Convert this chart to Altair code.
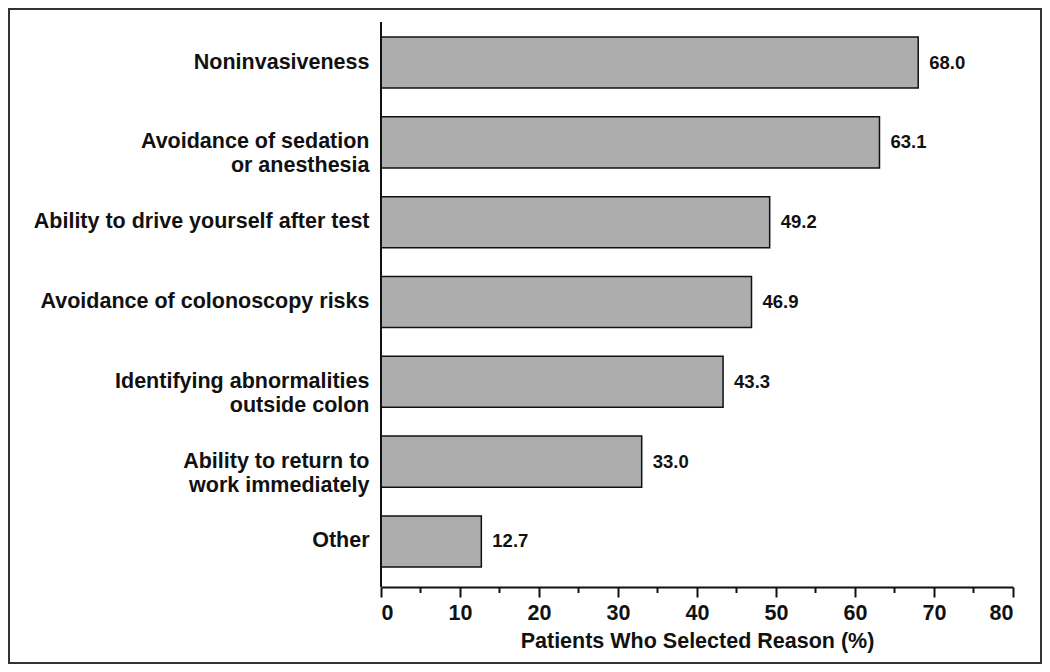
import altair as alt
import pandas as pd

reasons = [
    "Noninvasiveness",
    "Avoidance of sedation|or anesthesia",
    "Ability to drive yourself after test",
    "Avoidance of colonoscopy risks",
    "Identifying abnormalities|outside colon",
    "Ability to return to|work immediately",
    "Other",
]
percents = [68.0, 63.1, 49.2, 46.9, 43.3, 33.0, 12.7]
major_ticks = [0, 10, 20, 30, 40, 50, 60, 70, 80]
minor_ticks = [5, 15, 25, 35, 45, 55, 65, 75]

df = pd.DataFrame({"reason": reasons, "pct": percents})
minor_df = pd.DataFrame({"t": minor_ticks})

FONT = "Liberation Sans"
W, H = 632, 560

x_scale = alt.Scale(domain=[0, 80], nice=False, zero=True)
y_enc = alt.Y(
    "reason:N",
    sort=None,
    scale=alt.Scale(paddingInner=0.36, paddingOuter=0.188),
    axis=alt.Axis(
        title=None,
        domain=False,
        ticks=False,
        labelPadding=12,
        labelLimit=0,
        labelFont=FONT,
        labelFontSize=21.5,
        labelFontWeight="bold",
        labelColor="#111111",
        labelAlign="right",
        labelBaseline="middle",
        labelLineHeight=24,
        labelExpr="split(datum.label, '|')",
    ),
)

base = alt.Chart(df)

bars = base.mark_bar(fill="#adadad", stroke="#111111", strokeWidth=1.5).encode(
    x=alt.X(
        "pct:Q",
        scale=x_scale,
        axis=alt.Axis(
            values=major_ticks,
            title="Patients Who Selected Reason (%)",
            titleFont=FONT,
            titleFontSize=21.5,
            titleFontWeight="bold",
            titleColor="#111111",
            titlePadding=7,
            labelFont=FONT,
            labelFontSize=21.5,
            labelFontWeight="bold",
            labelColor="#111111",
            labelPadding=5,
            domainColor="#111111",
            domainWidth=2,
            tickColor="#111111",
            tickWidth=2,
            tickSize=10,
            grid=False,
            offset=5,
            format="d",
        ),
    ),
    y=y_enc,
)

labels = base.mark_text(
    align="left", baseline="middle", dx=11, font=FONT, fontSize=18.5,
    fontWeight="bold", color="#111111"
).encode(
    x=alt.X("pct:Q", scale=x_scale),
    y=y_enc,
    text=alt.Text("pct:Q", format=".1f"),
)

minor = alt.Chart(minor_df).mark_rule(color="#111111", strokeWidth=2).encode(
    x=alt.X("t:Q", scale=x_scale),
    y=alt.value(H + 5),
    y2=alt.value(H + 11),
)

yline = alt.Chart(minor_df).mark_rule(color="#111111", strokeWidth=2).encode(
    x=alt.value(0),
    y=alt.value(0),
    y2=alt.value(H + 5),
)

frame = alt.Chart(minor_df).mark_rect(
    fill=None, fillOpacity=0, stroke="#333333", strokeWidth=2
).encode(
    x=alt.value(-372),
    x2=alt.value(W + 28),
    y=alt.value(-13),
    y2=alt.value(H + 81),
)

chart = (
    alt.layer(bars, labels, minor, yline, frame)
    .properties(
        width=W,
        height=H,
        autosize=alt.AutoSizeParams(type="none"),
        padding={"left": 373, "top": 14, "right": 29, "bottom": 82},
        background="white",
    )
    .configure_view(stroke=None)
)

chart.save("out.html", embed_options={"renderer": "svg", "actions": False})
